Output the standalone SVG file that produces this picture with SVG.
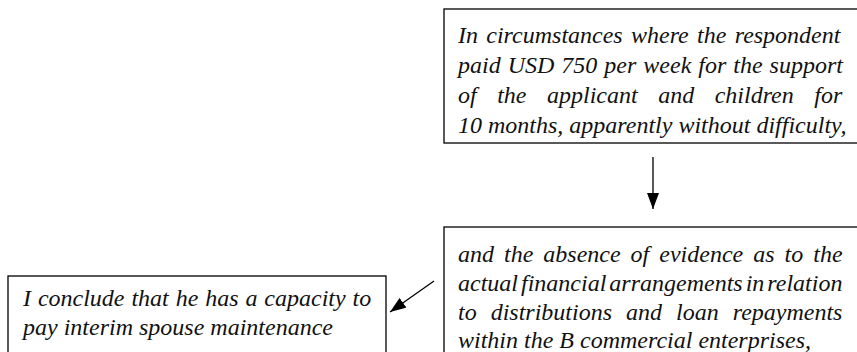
<svg xmlns="http://www.w3.org/2000/svg" width="857" height="352" viewBox="0 0 857 352">
  <defs>
    <marker id="head" viewBox="0 0 16 12" refX="16" refY="6" markerWidth="16" markerHeight="12" markerUnits="userSpaceOnUse" orient="auto">
      <path d="M0,0 L16,6 L0,12 Z" fill="#000"/>
    </marker>
    <style>
      .box { fill: #fff; stroke: #000; stroke-width: 1.3; }
      .txt { font-family: 'Liberation Serif', 'Times New Roman', serif; font-style: italic; font-size: 24px; fill: #111; }
      .link { stroke: #000; stroke-width: 1.3; fill: none; marker-end: url(#head); }
    </style>
  </defs>
  <rect width="857" height="352" fill="#fff"/>

  <!-- justified lines: extra word-spacing per line fills the column -->
  <g id="premise-payments">
    <rect class="box" x="444" y="9" width="420" height="134"/>
    <text class="txt" x="458" y="43" word-spacing="2.3">In circumstances where the respondent</text>
    <text class="txt" x="458" y="73" word-spacing="1">paid USD 750 per week for the support</text>
    <text class="txt" x="458" y="103" word-spacing="14.5">of the applicant and children for</text>
    <text class="txt" x="458" y="133">10 months, apparently without difficulty,</text>
  </g>

  <g id="premise-evidence">
    <rect class="box" x="444" y="227" width="420" height="140"/>
    <text class="txt" x="458" y="262" word-spacing="4">and the absence of evidence as to the</text>
    <text class="txt" x="458" y="291" word-spacing="-3">actual financial arrangements in relation</text>
    <text class="txt" x="458" y="320" word-spacing="8">to distributions and loan repayments</text>
    <text class="txt" x="458" y="348">within the B commercial enterprises,</text>
  </g>

  <g id="conclusion">
    <rect class="box" x="8" y="276" width="378" height="90"/>
    <text class="txt" x="23" y="306" word-spacing="0.9">I conclude that he has a capacity to</text>
    <text class="txt" x="23" y="335">pay interim spouse maintenance</text>
  </g>

  <g id="connectors">
    <line class="link" x1="653" y1="157" x2="653" y2="209"/>
    <line class="link" x1="434" y1="281" x2="390" y2="312"/>
  </g>
</svg>
